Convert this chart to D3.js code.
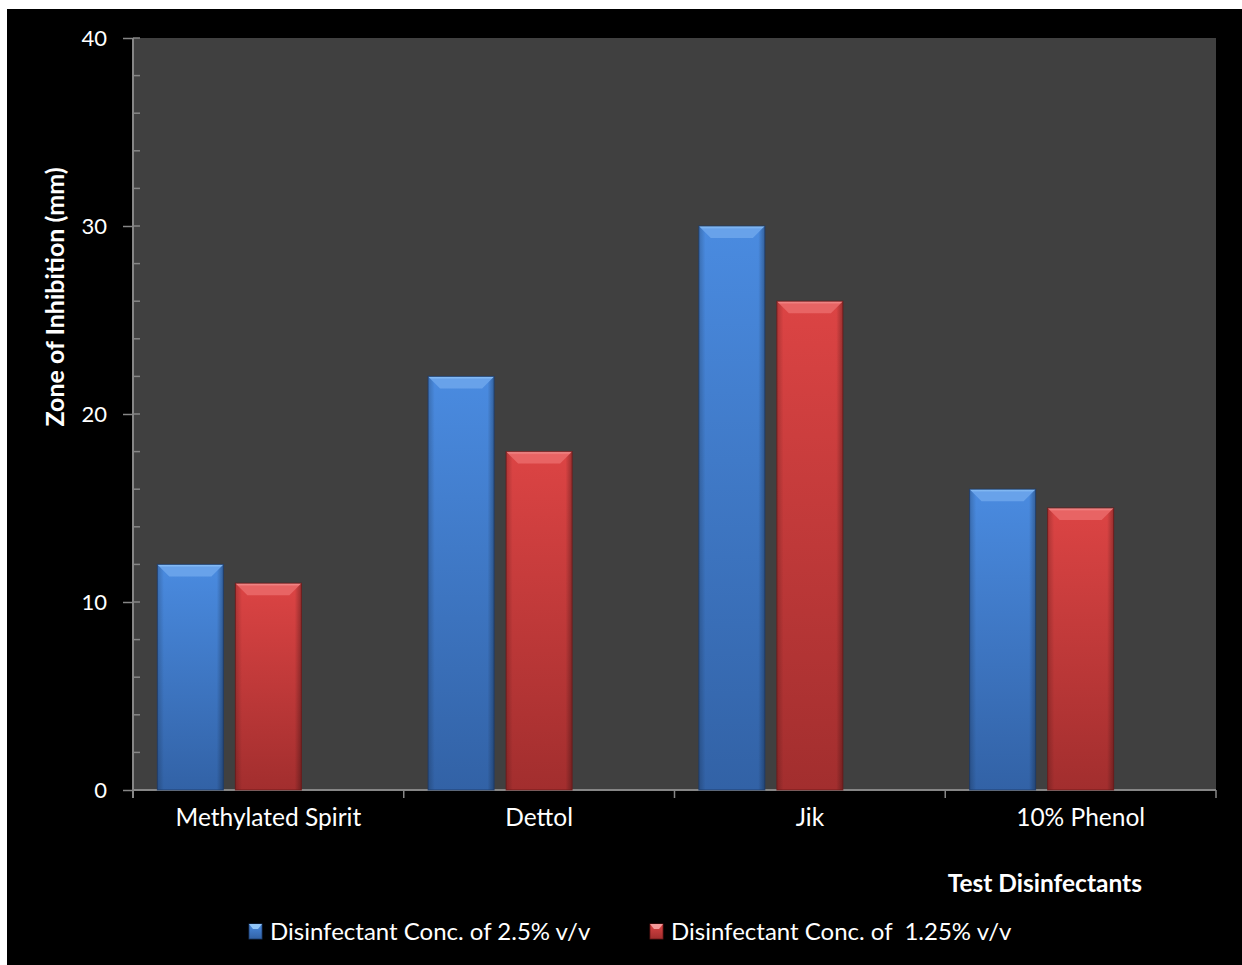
<!DOCTYPE html>
<html>
<head>
<meta charset="utf-8">
<script src="https://cdn.jsdelivr.net/npm/d3@7/dist/d3.min.js"></script>
<style>
  html, body { margin: 0; padding: 0; background: #ffffff; }
  svg { display: block; }
  text { font-family: "Lato", "Noto Sans", sans-serif; fill: #ffffff; }
</style>
</head>
<body>
<svg id="chart" width="1242" height="965"></svg>
<script>
// ---- data ----
const categories = ["Methylated Spirit", "Dettol", "Jik", "10% Phenol"];
const seriesNames = ["Disinfectant Conc. of 2.5% v/v", "Disinfectant Conc. of  1.25% v/v"];
const conc25 = [12, 22, 30, 16];
const conc125 = [11, 18, 26, 15];
const slots = ["s0", "s1", "s2"]; // third slot is an empty series in the original
const yTicks = [0, 10, 20, 30, 40];
const yTitle = "Zone of Inhibition (mm)";
const xTitle = "Test Disinfectants";

const seriesValues = [conc25, conc125];
const palette = [
  { top: "#4a8be0", bottom: "#3262a6", bevel: "#68a2ea", hi: "#92c6f8", edge: "#1c3a68" },
  { top: "#dc4444", bottom: "#a22e2e", bevel: "#e86464", hi: "#f59a9a", edge: "#6a1818" }
];

const svg = d3.select("#chart");
const W = 1242, H = 965;
const plot = { left: 133, right: 1216, top: 38, bottom: 790 };

// backgrounds
svg.append("rect").attr("x", 7).attr("y", 9).attr("width", W - 7).attr("height", H - 9).attr("fill", "#000000");
svg.append("rect").attr("x", plot.left).attr("y", plot.top)
  .attr("width", plot.right - plot.left).attr("height", plot.bottom - plot.top).attr("fill", "#404040");

// scales
const x = d3.scaleBand().domain(categories).range([plot.left, plot.right]).padding(0);
const xs = d3.scaleBand().domain(slots).range([0, x.bandwidth()]).paddingInner(0.154).paddingOuter(0.312);
const y = d3.scaleLinear().domain([0, 40]).range([plot.bottom, plot.top]);

// gradients
const defs = svg.append("defs");
palette.forEach((p, i) => {
  const g = defs.append("linearGradient").attr("id", "grad" + i).attr("x1", 0).attr("y1", 0).attr("x2", 0).attr("y2", 1);
  g.append("stop").attr("offset", "0%").attr("stop-color", p.top);
  g.append("stop").attr("offset", "100%").attr("stop-color", p.bottom);
  const h = defs.append("linearGradient").attr("id", "hgrad" + i).attr("x1", 0).attr("y1", 0).attr("x2", 1).attr("y2", 0);
  h.append("stop").attr("offset", "0%").attr("stop-color", "#000").attr("stop-opacity", 0.2);
  h.append("stop").attr("offset", "10%").attr("stop-color", "#000").attr("stop-opacity", 0);
  h.append("stop").attr("offset", "90%").attr("stop-color", "#000").attr("stop-opacity", 0);
  h.append("stop").attr("offset", "100%").attr("stop-color", "#000").attr("stop-opacity", 0.3);
  const b = defs.append("linearGradient").attr("id", "bev" + i).attr("x1", 0).attr("y1", 0).attr("x2", 0).attr("y2", 1);
  b.append("stop").attr("offset", "0%").attr("stop-color", p.hi);
  b.append("stop").attr("offset", "25%").attr("stop-color", p.bevel);
  b.append("stop").attr("offset", "100%").attr("stop-color", p.bevel);
});

const axisColor = "#868686";
const fontMain = 24.5;

// y axis minor ticks (inside the plot)
const minorTicks = d3.range(0, 41, 2);
svg.append("g").selectAll("line").data(minorTicks).join("line")
  .attr("x1", plot.left).attr("x2", plot.left + 7)
  .attr("y1", d => y(d)).attr("y2", d => y(d))
  .attr("stroke", axisColor).attr("stroke-width", 1.5);

// y axis major ticks + labels
const yAxisG = svg.append("g").attr("transform", `translate(${plot.left},0)`)
  .call(d3.axisLeft(y).tickValues(yTicks).tickSize(10).tickPadding(16).tickFormat(d3.format("d")));
yAxisG.select(".domain").remove();
yAxisG.selectAll(".tick line").attr("stroke", axisColor).attr("stroke-width", 1.5);
yAxisG.selectAll(".tick text").attr("font-size", 22).attr("fill", "#ffffff")
  .style("font-family", "Lato, sans-serif");
svg.append("line").attr("x1", plot.left).attr("x2", plot.left)
  .attr("y1", plot.top).attr("y2", plot.bottom + 8)
  .attr("stroke", axisColor).attr("stroke-width", 2);

// x axis
const xAxisG = svg.append("g").attr("transform", `translate(0,${plot.bottom})`)
  .call(d3.axisBottom(x).tickSize(0).tickPadding(19));
xAxisG.select(".domain").remove();
xAxisG.selectAll(".tick text").attr("font-size", fontMain).attr("fill", "#ffffff")
  .style("font-family", "Lato, sans-serif");
svg.append("line").attr("x1", plot.left).attr("x2", plot.right)
  .attr("y1", plot.bottom).attr("y2", plot.bottom)
  .attr("stroke", axisColor).attr("stroke-width", 2);
const bounds = categories.map(c => x(c)).concat([x(categories[categories.length - 1]) + x.bandwidth()]);
svg.append("g").selectAll("line").data(bounds).join("line")
  .attr("x1", d => d).attr("x2", d => d)
  .attr("y1", plot.bottom).attr("y2", plot.bottom + 8)
  .attr("stroke", axisColor).attr("stroke-width", 1.5);

// bars
const bars = svg.append("g");
seriesValues.forEach((vals, si) => {
  categories.forEach((c, ci) => {
    const v = vals[ci];
    const bx = x(c) + xs(slots[si]);
    const bw = xs.bandwidth();
    const by = y(v);
    const bh = y(0) - y(v);
    const g = bars.append("g");
    g.append("rect").attr("x", bx).attr("y", by).attr("width", bw).attr("height", bh)
      .attr("fill", `url(#grad${si})`);
    g.append("rect").attr("x", bx).attr("y", by).attr("width", bw).attr("height", bh)
      .attr("fill", `url(#hgrad${si})`);
    const inset = Math.min(12, bw / 4), depth = Math.min(12, bh / 2);
    g.append("path")
      .attr("d", `M${bx},${by} L${bx + bw},${by} L${bx + bw - inset},${by + depth} L${bx + inset},${by + depth} Z`)
      .attr("fill", `url(#bev${si})`);
    g.append("rect").attr("x", bx).attr("y", by).attr("width", bw).attr("height", bh)
      .attr("fill", "none").attr("stroke", palette[si].edge).attr("stroke-width", 1).attr("stroke-opacity", 0.8);
  });
});

// axis titles
svg.append("text").attr("transform", "translate(64,297) rotate(-90)")
  .attr("text-anchor", "middle").attr("font-size", 25).attr("font-weight", "bold").text(yTitle);
svg.append("text").attr("x", 1142).attr("y", 892)
  .attr("text-anchor", "end").attr("font-size", fontMain).attr("font-weight", "bold").text(xTitle);

// legend
const legendX = [249, 650];
const legend = svg.append("g");
seriesNames.forEach((name, i) => {
  const lg = legend.append("g").attr("transform", `translate(${legendX[i]},924)`);
  lg.append("rect").attr("width", 13).attr("height", 15).attr("fill", `url(#grad${i})`)
    .attr("stroke", palette[i].edge).attr("stroke-width", 0.8);
  lg.append("path").attr("d", "M0,0 L13,0 L9,5 L4,5 Z").attr("fill", palette[i].hi);
  lg.append("text").attr("x", 21).attr("y", 15.5).attr("font-size", 24)
    .style("white-space", "pre").text(name);
});
</script>
</body>
</html>
